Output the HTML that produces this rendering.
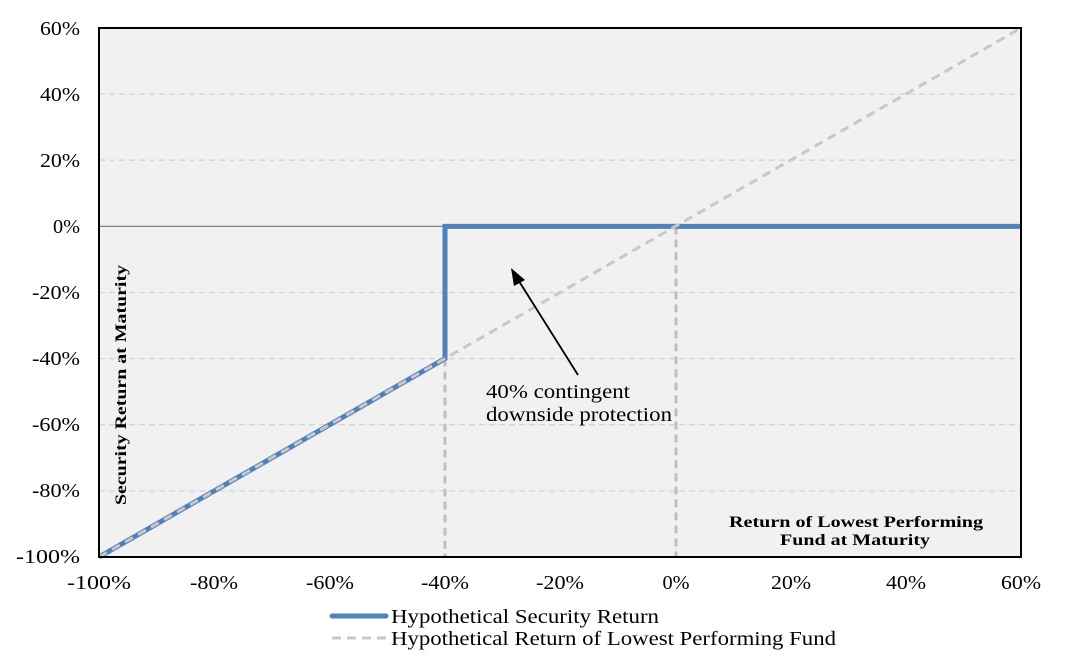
<!DOCTYPE html>
<html><head><style>body{margin:0;background:#fff}svg{display:block}</style></head><body>
<svg width="1070" height="664" xmlns="http://www.w3.org/2000/svg" font-family="Liberation Serif, serif">
<rect x="99" y="28" width="922" height="529" fill="#f1f1f1"/>
<g stroke="#d4d4d4" stroke-width="1.3" stroke-dasharray="6,4">
<line x1="99" x2="1021" y1="94.1" y2="94.1"/>
<line x1="99" x2="1021" y1="160.2" y2="160.2"/>
<line x1="99" x2="1021" y1="292.5" y2="292.5"/>
<line x1="99" x2="1021" y1="358.6" y2="358.6"/>
<line x1="99" x2="1021" y1="424.7" y2="424.7"/>
<line x1="99" x2="1021" y1="490.9" y2="490.9"/>
</g>
<line x1="99" x2="1021" y1="226.4" y2="226.4" stroke="#808080" stroke-width="1.3"/>
<g stroke="#bfbfbf" stroke-width="3" stroke-dasharray="8,5">
<line x1="445" x2="445" y1="358.6" y2="557"/>
<line x1="676" x2="676" y1="226.4" y2="557"/>
</g>
<polyline points="99,557 445,358.6 445,226.4 1021,226.4" fill="none" stroke="#4f81bd" stroke-width="5"/>
<line x1="99" y1="557" x2="1021" y2="28" stroke="#c8c8c8" stroke-width="3" stroke-dasharray="9,6"/>
<rect x="99" y="28" width="922" height="529" fill="none" stroke="#000" stroke-width="2"/>
<line x1="578" y1="375" x2="517" y2="278" stroke="#000" stroke-width="1.8"/>
<polygon points="511,268 525,280 514,286" fill="#000"/>
<g font-size="20" fill="#000" lengthAdjust="spacingAndGlyphs">
<text x="486" y="398" textLength="144" lengthAdjust="spacingAndGlyphs">40% contingent</text>
<text x="486" y="421" textLength="186" lengthAdjust="spacingAndGlyphs">downside protection</text>
</g>
<g font-size="20" text-anchor="end">
<text x="80" y="35" textLength="40" lengthAdjust="spacingAndGlyphs">60%</text>
<text x="80" y="101" textLength="40" lengthAdjust="spacingAndGlyphs">40%</text>
<text x="80" y="167" textLength="40" lengthAdjust="spacingAndGlyphs">20%</text>
<text x="80" y="233" textLength="27" lengthAdjust="spacingAndGlyphs">0%</text>
<text x="80" y="299" textLength="48" lengthAdjust="spacingAndGlyphs">-20%</text>
<text x="80" y="365" textLength="48" lengthAdjust="spacingAndGlyphs">-40%</text>
<text x="80" y="431" textLength="48" lengthAdjust="spacingAndGlyphs">-60%</text>
<text x="80" y="497" textLength="48" lengthAdjust="spacingAndGlyphs">-80%</text>
<text x="80" y="563" textLength="64" lengthAdjust="spacingAndGlyphs">-100%</text>
</g>
<g font-size="20" text-anchor="middle">
<text x="99" y="589" textLength="64" lengthAdjust="spacingAndGlyphs">-100%</text>
<text x="214" y="589" textLength="48" lengthAdjust="spacingAndGlyphs">-80%</text>
<text x="330" y="589" textLength="48" lengthAdjust="spacingAndGlyphs">-60%</text>
<text x="445" y="589" textLength="48" lengthAdjust="spacingAndGlyphs">-40%</text>
<text x="560" y="589" textLength="48" lengthAdjust="spacingAndGlyphs">-20%</text>
<text x="676" y="589" textLength="27" lengthAdjust="spacingAndGlyphs">0%</text>
<text x="791" y="589" textLength="40" lengthAdjust="spacingAndGlyphs">20%</text>
<text x="906" y="589" textLength="40" lengthAdjust="spacingAndGlyphs">40%</text>
<text x="1021" y="589" textLength="40" lengthAdjust="spacingAndGlyphs">60%</text>
</g>
<text transform="translate(126,385) rotate(-90)" font-size="16" font-weight="bold" text-anchor="middle" textLength="240" lengthAdjust="spacingAndGlyphs">Security Return at Maturity</text>
<g font-size="16" font-weight="bold" text-anchor="end">
<text x="983" y="527" textLength="254" lengthAdjust="spacingAndGlyphs">Return of Lowest Performing</text>
<text x="930" y="545" textLength="150" lengthAdjust="spacingAndGlyphs">Fund at Maturity</text>
</g>
<line x1="332" x2="386" y1="616" y2="616" stroke="#4f81bd" stroke-width="5" stroke-linecap="round"/>
<line x1="332" x2="386" y1="638" y2="638" stroke="#c8c8c8" stroke-width="3" stroke-dasharray="9,6"/>
<g font-size="20"><text x="391" y="623" textLength="268" lengthAdjust="spacingAndGlyphs">Hypothetical Security Return</text>
<text x="391" y="645" textLength="445" lengthAdjust="spacingAndGlyphs">Hypothetical Return of Lowest Performing Fund</text></g>
</svg>
</body></html>
